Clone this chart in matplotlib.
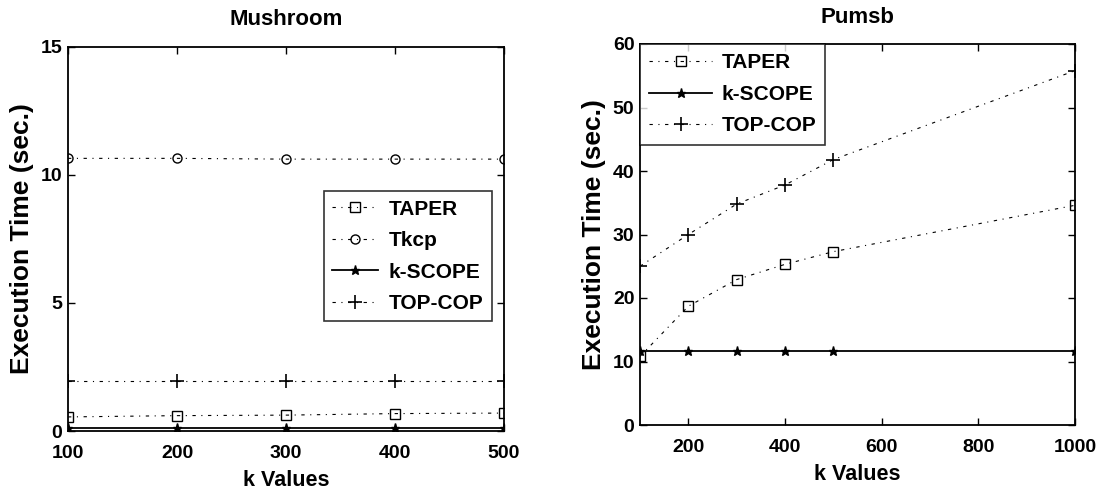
import matplotlib.pyplot as plt
import numpy as np

plt.rcParams['font.family'] = ['Liberation Sans', 'DejaVu Sans']
plt.rcParams['font.weight'] = 'bold'

# Mushroom
k_mush = [100, 200, 300, 400, 500]
mush_taper = [0.55, 0.6, 0.62, 0.68, 0.7]
mush_tkcp = [10.65, 10.65, 10.62, 10.62, 10.62]
mush_kscope = [0.13, 0.13, 0.13, 0.13, 0.13]
mush_topcop = [1.95, 1.95, 1.95, 1.95, 1.95]

# Pumsb
k_pumsb = [100, 200, 300, 400, 500, 1000]
pumsb_taper = [10.8, 18.7, 22.9, 25.3, 27.3, 34.6]
pumsb_kscope = [11.7, 11.7, 11.7, 11.7, 11.7, 11.7]
pumsb_topcop = [25, 30, 34.8, 37.8, 41.8, 55.8]

fig = plt.figure(figsize=(11.05, 5.01), dpi=100)
ax1 = fig.add_axes([68/1105, 1-431/501, 436/1105, 384/501])
ax2 = fig.add_axes([640/1105, 1-425/501, 435/1105, 381/501])

dash = (0, (3, 5, 1, 5))
ms = 6.5

ax1.plot(k_mush, mush_taper, color='k', lw=0.8, ls=dash, marker='s', mfc='none', ms=ms, label='TAPER')
ax1.plot(k_mush, mush_tkcp, color='k', lw=0.8, ls=dash, marker='o', mfc='none', ms=ms, label='Tkcp')
ax1.plot(k_mush, mush_kscope, color='k', lw=1.3, ls='-', marker='*', ms=ms, label='k-SCOPE')
ax1.plot(k_mush, mush_topcop, color='k', lw=0.8, ls=dash, marker='+', ms=10, mew=1.2, label='TOP-COP')
ax1.set_xlim(100, 500)
ax1.set_ylim(0, 15)
ax1.set_xticks([100, 200, 300, 400, 500])
ax1.set_yticks([0, 5, 10, 15])
ax1.set_title('Mushroom', fontsize=16, fontweight='bold', pad=16)
ax1.set_xlabel('k Values', fontsize=15.5, fontweight='bold', labelpad=6)
ax1.set_ylabel('Execution Time (sec.)', fontsize=19, fontweight='bold', labelpad=5)
leg1 = ax1.legend(loc='upper left', bbox_to_anchor=(0.587, 0.6245), borderaxespad=0, fontsize=15,
                  frameon=True, fancybox=False, edgecolor='k', handlelength=2.2, handletextpad=0.5,
                  borderpad=0.4, labelspacing=0.6)
leg1.get_frame().set_linewidth(1.2)

ax2.plot(k_pumsb, pumsb_taper, color='k', lw=0.8, ls=dash, marker='s', mfc='none', ms=ms, label='TAPER')
ax2.plot(k_pumsb, pumsb_kscope, color='k', lw=1.3, ls='-', marker='*', ms=ms, label='k-SCOPE')
ax2.plot(k_pumsb, pumsb_topcop, color='k', lw=0.8, ls=dash, marker='+', ms=10, mew=1.2, label='TOP-COP')
ax2.set_xlim(100, 1000)
ax2.set_ylim(0, 60)
ax2.set_xticks([200, 400, 600, 800, 1000])
ax2.set_yticks([0, 10, 20, 30, 40, 50, 60])
ax2.set_title('Pumsb', fontsize=16, fontweight='bold', pad=15)
ax2.set_xlabel('k Values', fontsize=15.5, fontweight='bold', labelpad=6)
ax2.set_ylabel('Execution Time (sec.)', fontsize=19, fontweight='bold', labelpad=5)
leg2 = ax2.legend(loc='upper left', bbox_to_anchor=(0.0, 1.0), borderaxespad=0, fontsize=15,
                  frameon=True, fancybox=False, edgecolor='k', handlelength=3.0, handletextpad=0.45,
                  borderpad=0.45, labelspacing=0.6)
leg2.get_frame().set_linewidth(1.2)

for ax in (ax1, ax2):
    ax.tick_params(direction='in', top=True, right=True, labelsize=14, length=5, width=1.0)
    ax.tick_params(axis='x', pad=10)
    ax.tick_params(axis='y', pad=4)
    for lab in ax.get_xticklabels() + ax.get_yticklabels():
        lab.set_fontweight('bold')
    for s in ax.spines.values():
        s.set_linewidth(1.3)

fig.savefig('out.png', dpi=100)
